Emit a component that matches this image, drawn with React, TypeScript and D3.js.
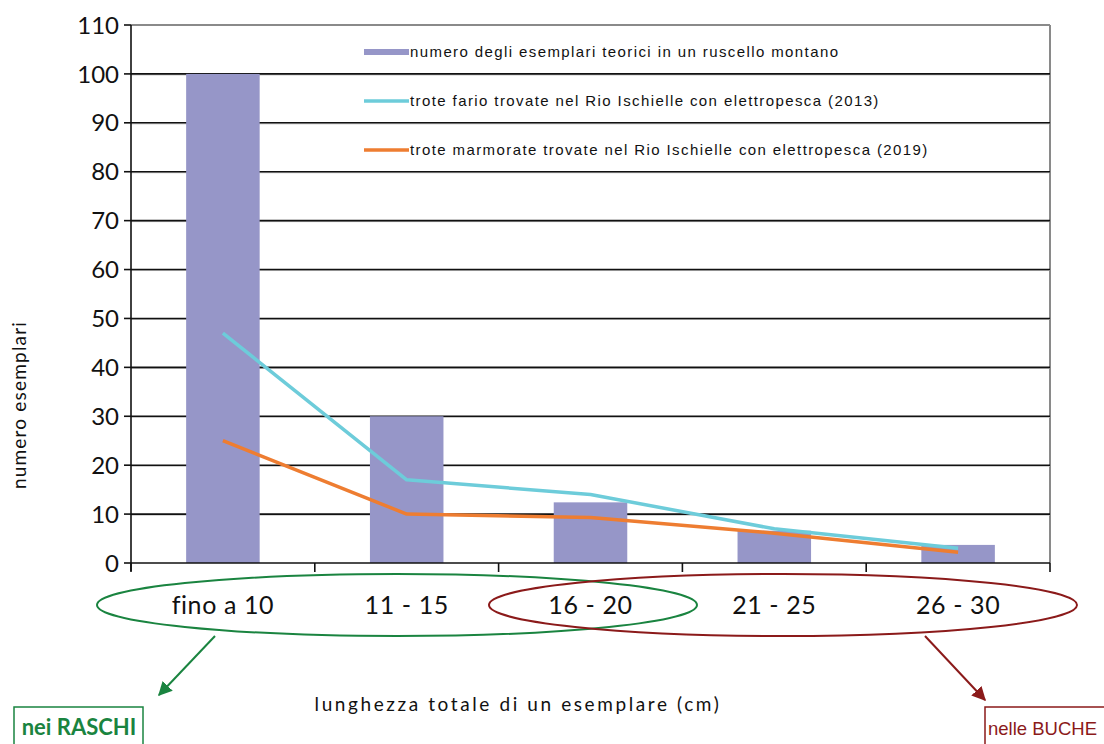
import React from "react";
import * as d3 from "d3";

// Size classes (cm) and counts per class
const categories = ["fino a 10", "11 - 15", "16 - 20", "21 - 25", "26 - 30"];
const theoretical = [100, 30, 12.4, 6.6, 3.7];
const fario2013 = [47, 17, 14, 7, 3];
const marmorata2019 = [25, 10, 9.3, 6.1, 2.2];
const yTicks = [0, 10, 20, 30, 40, 50, 60, 70, 80, 90, 100, 110];

const legendLabels = [
  "numero degli esemplari teorici in un ruscello montano",
  "trote fario trovate nel Rio Ischielle con elettropesca (2013)",
  "trote marmorate trovate nel Rio Ischielle con elettropesca (2019)",
];

const W = 1104;
const H = 744;
const left = 131;
const right = 1050;
const top = 25;
const bottom = 563;

const BAR = "#9696C8";
const CYAN = "#6DCCDA";
const ORANGE = "#EE7D31";
const GREEN = "#1A8440";
const DARKRED = "#8B1A1A";

export default function App() {
  const x = d3.scaleBand<string>().domain(categories).range([left, right]).padding(0);
  const y = d3.scaleLinear().domain([0, 110]).range([bottom, top]);
  const barW = x.bandwidth() * 0.4;
  const cx = (c: string) => (x(c) as number) + x.bandwidth() / 2;

  const line = d3
    .line<number>()
    .x((_, i) => cx(categories[i]))
    .y((d) => y(d));

  const tickXs = [...categories.map((c) => x(c) as number), right];

  return (
    <svg
      width={W}
      height={H}
      viewBox={`0 0 ${W} ${H}`}
      style={{ position: "absolute", left: 0, top: 0, background: "#fff" }}
    >
      <defs>
        <marker id="arrG" viewBox="0 0 10 10" refX="9" refY="5" markerWidth="14" markerHeight="14" markerUnits="userSpaceOnUse" orient="auto">
          <path d="M0,0 L10,5 L0,10 z" fill={GREEN} />
        </marker>
        <marker id="arrR" viewBox="0 0 10 10" refX="9" refY="5" markerWidth="14" markerHeight="14" markerUnits="userSpaceOnUse" orient="auto">
          <path d="M0,0 L10,5 L0,10 z" fill={DARKRED} />
        </marker>
      </defs>

      {/* plot frame */}
      <line x1={left} x2={right} y1={top} y2={top} stroke="#8a8a8a" strokeWidth={2} />
      <line x1={right} x2={right} y1={top} y2={bottom} stroke="#8a8a8a" strokeWidth={2} />

      {/* horizontal gridlines */}
      {yTicks
        .filter((t) => t > 0 && t < 110)
        .map((t) => (
          <g key={t}>
            <line x1={left} x2={right} y1={y(t) + 1} y2={y(t) + 1} stroke="#bbb" strokeWidth={1} />
            <line x1={left} x2={right} y1={y(t)} y2={y(t)} stroke="#111" strokeWidth={1.6} />
          </g>
        ))}

      {/* bars */}
      {theoretical.map((v, i) => (
        <rect
          key={i}
          x={cx(categories[i]) - barW / 2}
          y={y(v)}
          width={barW}
          height={y(0) - y(v)}
          fill={BAR}
        />
      ))}

      {/* lines */}
      <path d={line(fario2013) || ""} fill="none" stroke={CYAN} strokeWidth={3.5} strokeLinejoin="round" />
      <path d={line(marmorata2019) || ""} fill="none" stroke={ORANGE} strokeWidth={3.5} strokeLinejoin="round" />

      {/* y axis */}
      <line x1={left} x2={left} y1={top} y2={bottom + 8} stroke="#111" strokeWidth={1.6} />
      {yTicks.map((t) => (
        <g key={t}>
          <line x1={left - 7} x2={left} y1={y(t)} y2={y(t)} stroke="#111" strokeWidth={1.6} />
          <text
            x={left - 12}
            y={y(t)}
            dy="0.36em"
            textAnchor="end"
            fontFamily="Lato, sans-serif"
            fontSize={24}
            fill="#111"
          >
            {t}
          </text>
        </g>
      ))}

      {/* x axis */}
      <line x1={left} x2={right} y1={bottom} y2={bottom} stroke="#111" strokeWidth={1.6} />
      {tickXs.map((tx, i) => (
        <line key={i} x1={tx} x2={tx} y1={bottom} y2={bottom + 9} stroke="#111" strokeWidth={1.6} />
      ))}
      {categories.map((c) => (
        <text
          key={c}
          x={cx(c)}
          y={605}
          dy="0.36em"
          textAnchor="middle"
          fontFamily="Lato, sans-serif"
          fontSize={25}
          letterSpacing={0.6}
          fill="#111"
        >
          {c}
        </text>
      ))}

      {/* legend */}
      {legendLabels.map((lab, i) => {
        const ly = 52 + i * 49;
        return (
          <g key={lab}>
            {i === 0 ? (
              <rect x={364} y={ly - 3} width={45} height={6} fill={BAR} />
            ) : (
              <line x1={364} x2={409} y1={ly} y2={ly} stroke={i === 1 ? CYAN : ORANGE} strokeWidth={3.5} />
            )}
            <text
              x={410}
              y={ly}
              dy="0.35em"
              fontFamily="'Liberation Sans', Arial, sans-serif"
              fontSize={15}
              letterSpacing={1.4}
              fill="#111"
            >
              {lab}
            </text>
          </g>
        );
      })}

      {/* axis titles */}
      <text
        transform={`translate(26,${405}) rotate(-90)`}
        textAnchor="middle"
        fontFamily="Lato, sans-serif"
        fontSize={19}
        letterSpacing={1.2}
        fill="#111"
      >
        numero esemplari
      </text>
      <text
        x={518}
        y={711}
        textAnchor="middle"
        fontFamily="Lato, sans-serif"
        fontSize={19}
        letterSpacing={2.6}
        fill="#111"
      >
        lunghezza totale di un esemplare (cm)
      </text>

      {/* habitat groupings */}
      <ellipse cx={397} cy={605} rx={300} ry={31} fill="none" stroke={GREEN} strokeWidth={2} />
      <ellipse cx={783} cy={605} rx={294} ry={31} fill="none" stroke={DARKRED} strokeWidth={2} />
      <line x1={215} x2={159} y1={636} y2={695} stroke={GREEN} strokeWidth={2} markerEnd="url(#arrG)" />
      <line x1={925} x2={985} y1={636} y2={700} stroke={DARKRED} strokeWidth={2} markerEnd="url(#arrR)" />

      <rect x={14} y={707} width={129} height={45} fill="#fff" stroke={GREEN} strokeWidth={1.5} />
      <text x={79} y={735} textAnchor="middle" fontFamily="Lato, sans-serif" fontWeight="bold" fontSize={22} fill={GREEN}>
        nei RASCHI
      </text>
      <rect x={985} y={707} width={130} height={45} fill="#fff" stroke={DARKRED} strokeWidth={1.5} />
      <text x={988} y={735} fontFamily="'Liberation Sans', Arial, sans-serif" fontSize={18.5} fill={DARKRED}>
        nelle BUCHE
      </text>
    </svg>
  );
}
